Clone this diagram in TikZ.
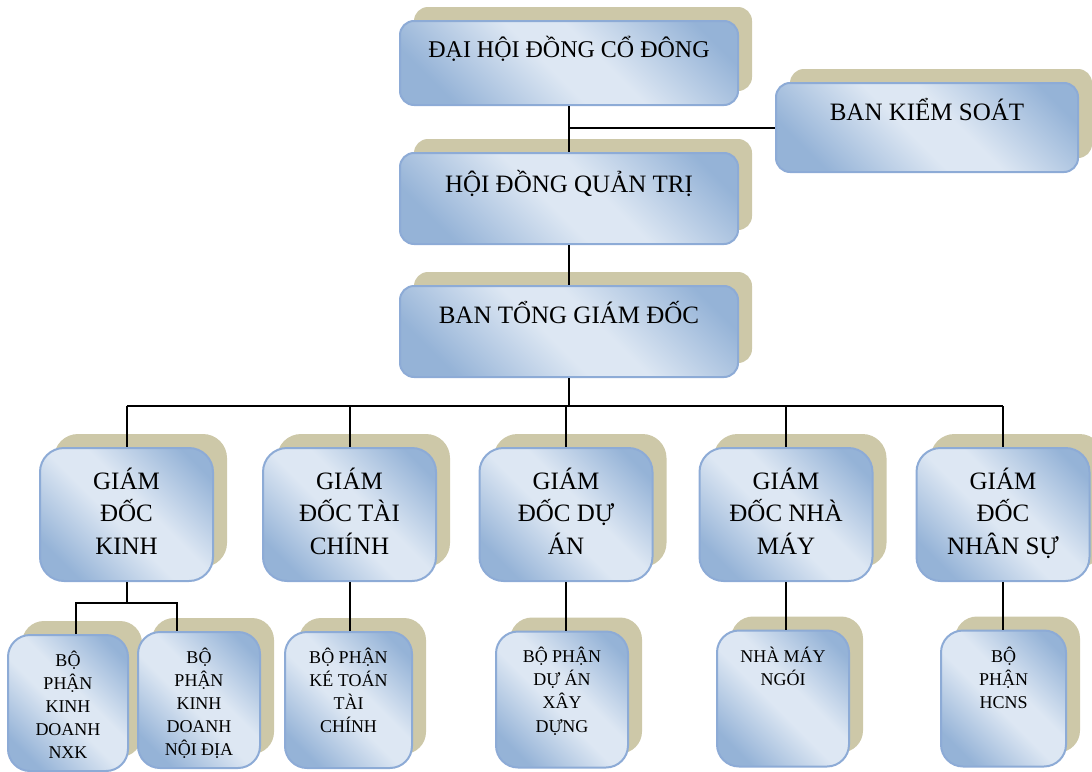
\documentclass[tikz,border=0pt]{standalone}
\usepackage{fontspec}
\setmainfont{Liberation Serif}
\usetikzlibrary{shadows}

\definecolor{bdark}{RGB}{149,179,215}
\definecolor{blight}{RGB}{221,231,243}
\definecolor{bline}{RGB}{141,171,214}
\definecolor{shadecol}{RGB}{205,200,168}

\pgfdeclareverticalshading{boxfill}{100bp}{color(0bp)=(bdark); color(24bp)=(bdark);
  color(46bp)=(blight); color(56bp)=(blight); color(78bp)=(bdark); color(100bp)=(bdark)}

% text of a box: width, height, first baseline, lines
\newcommand{\boxtxt}[4]{\parbox[c][#2][t]{#1}{\centering\rule{0pt}{#3}#4\par}}

\tikzset{
  orgbox/.style={draw=bline, line width=2pt, inner sep=0pt,
    shading=boxfill, shading angle=-45,
    drop shadow={shadow xshift=14pt, shadow yshift=14pt, fill=shadecol, opacity=1}},
  topbox/.style={orgbox, rounded corners=14pt, font=\fontsize{25}{30}\selectfont},
  midbox/.style={orgbox, rounded corners=24pt, font=\fontsize{25}{32.5}\selectfont},
  lowbox/.style={orgbox, rounded corners=22pt, font=\fontsize{18}{23.2}\selectfont},
  link/.style={line width=2pt}
}

\begin{document}
\begin{tikzpicture}[x=1pt,y=-1pt]
\useasboundingbox (0,0) rectangle (1092,771);

% top
\node[topbox] (dhdcd) at (569,63) {\boxtxt{338pt}{84pt}{36pt}{\fontsize{24}{30}\selectfont ĐẠI HỘI ĐỒNG CỔ ĐÔNG}};
\node[topbox] (bks) at (927,127.5) {\boxtxt{302pt}{89pt}{37pt}{BAN KIỂM SOÁT}};
\node[topbox] (hdqt) at (569,198.5) {\boxtxt{338pt}{91pt}{39pt}{HỘI ĐỒNG QUẢN TRỊ}};
\node[topbox] (btgd) at (569,331.5) {\boxtxt{338pt}{91pt}{37pt}{BAN TỔNG GIÁM ĐỐC}};

% directors
\node[midbox] (gdkd) at (126.5,514.5) {\boxtxt{173pt}{133pt}{41pt}{GIÁM\\ĐỐC\\KINH}};
\node[midbox] (gdtc) at (349.5,514.5) {\boxtxt{173pt}{133pt}{41pt}{GIÁM\\ĐỐC TÀI\\CHÍNH}};
\node[midbox] (gdda) at (566,514.5) {\boxtxt{173pt}{133pt}{41pt}{GIÁM\\ĐỐC DỰ\\ÁN}};
\node[midbox] (gdnm) at (786,514.5) {\boxtxt{173pt}{133pt}{41pt}{GIÁM\\ĐỐC NHÀ\\MÁY}};
\node[midbox] (gdns) at (1003,514.5) {\boxtxt{173pt}{133pt}{41pt}{GIÁM\\ĐỐC\\NHÂN SỰ}};

% departments
\node[lowbox] (bpnxk) at (68,703) {\boxtxt{120pt}{136pt}{31pt}{BỘ\\PHẬN\\KINH\\DOANH\\NXK}};
\node[lowbox] (bpnd) at (199,700) {\boxtxt{122pt}{136pt}{31pt}{BỘ\\PHẬN\\KINH\\DOANH\\NỘI ĐỊA}};
\node[lowbox] (bpkt) at (348.5,700) {\boxtxt{127pt}{136pt}{31pt}{BỘ PHẬN\\KÉ TOÁN\\TÀI\\CHÍNH}};
\node[lowbox] (bpda) at (562,699.5) {\boxtxt{132pt}{136pt}{31pt}{BỘ PHẬN\\DỰ ÁN\\XÂY\\DỰNG}};
\node[lowbox] (bpnm) at (783,698.5) {\boxtxt{132pt}{136pt}{32pt}{NHÀ MÁY\\NGÓI}};
\node[lowbox] (bphc) at (1003.5,698.5) {\boxtxt{125pt}{136pt}{32pt}{BỘ\\PHẬN\\HCNS}};

% links
\draw[link] (dhdcd.south) -- (hdqt.north);
\draw[link] (dhdcd.south |- bks.west) -- (bks.west);
\draw[link] (hdqt.south) -- (btgd.north);
\coordinate (bar) at (569,406);
\draw[link] (btgd.south) -- (bar);
\draw[link] (gdkd.north |- bar) -- (gdns.north |- bar);
\foreach \n in {gdkd,gdtc,gdda,gdnm,gdns}
  \draw[link] (\n.north |- bar) -- (\n.north);
\draw[link] (gdkd.south) -- ++(0,21) coordinate (kdfork);
\draw[link] ([xshift=8pt]bpnxk.north) |- (kdfork) -| ([xshift=-22pt]bpnd.north);
\draw[link] (gdtc.south) -- (gdtc.south |- bpkt.north);
\draw[link] (gdda.south) -- (gdda.south |- bpda.north);
\draw[link] (gdnm.south) -- (gdnm.south |- bpnm.north);
\draw[link] (gdns.south) -- (gdns.south |- bphc.north);

\end{tikzpicture}
\end{document}
